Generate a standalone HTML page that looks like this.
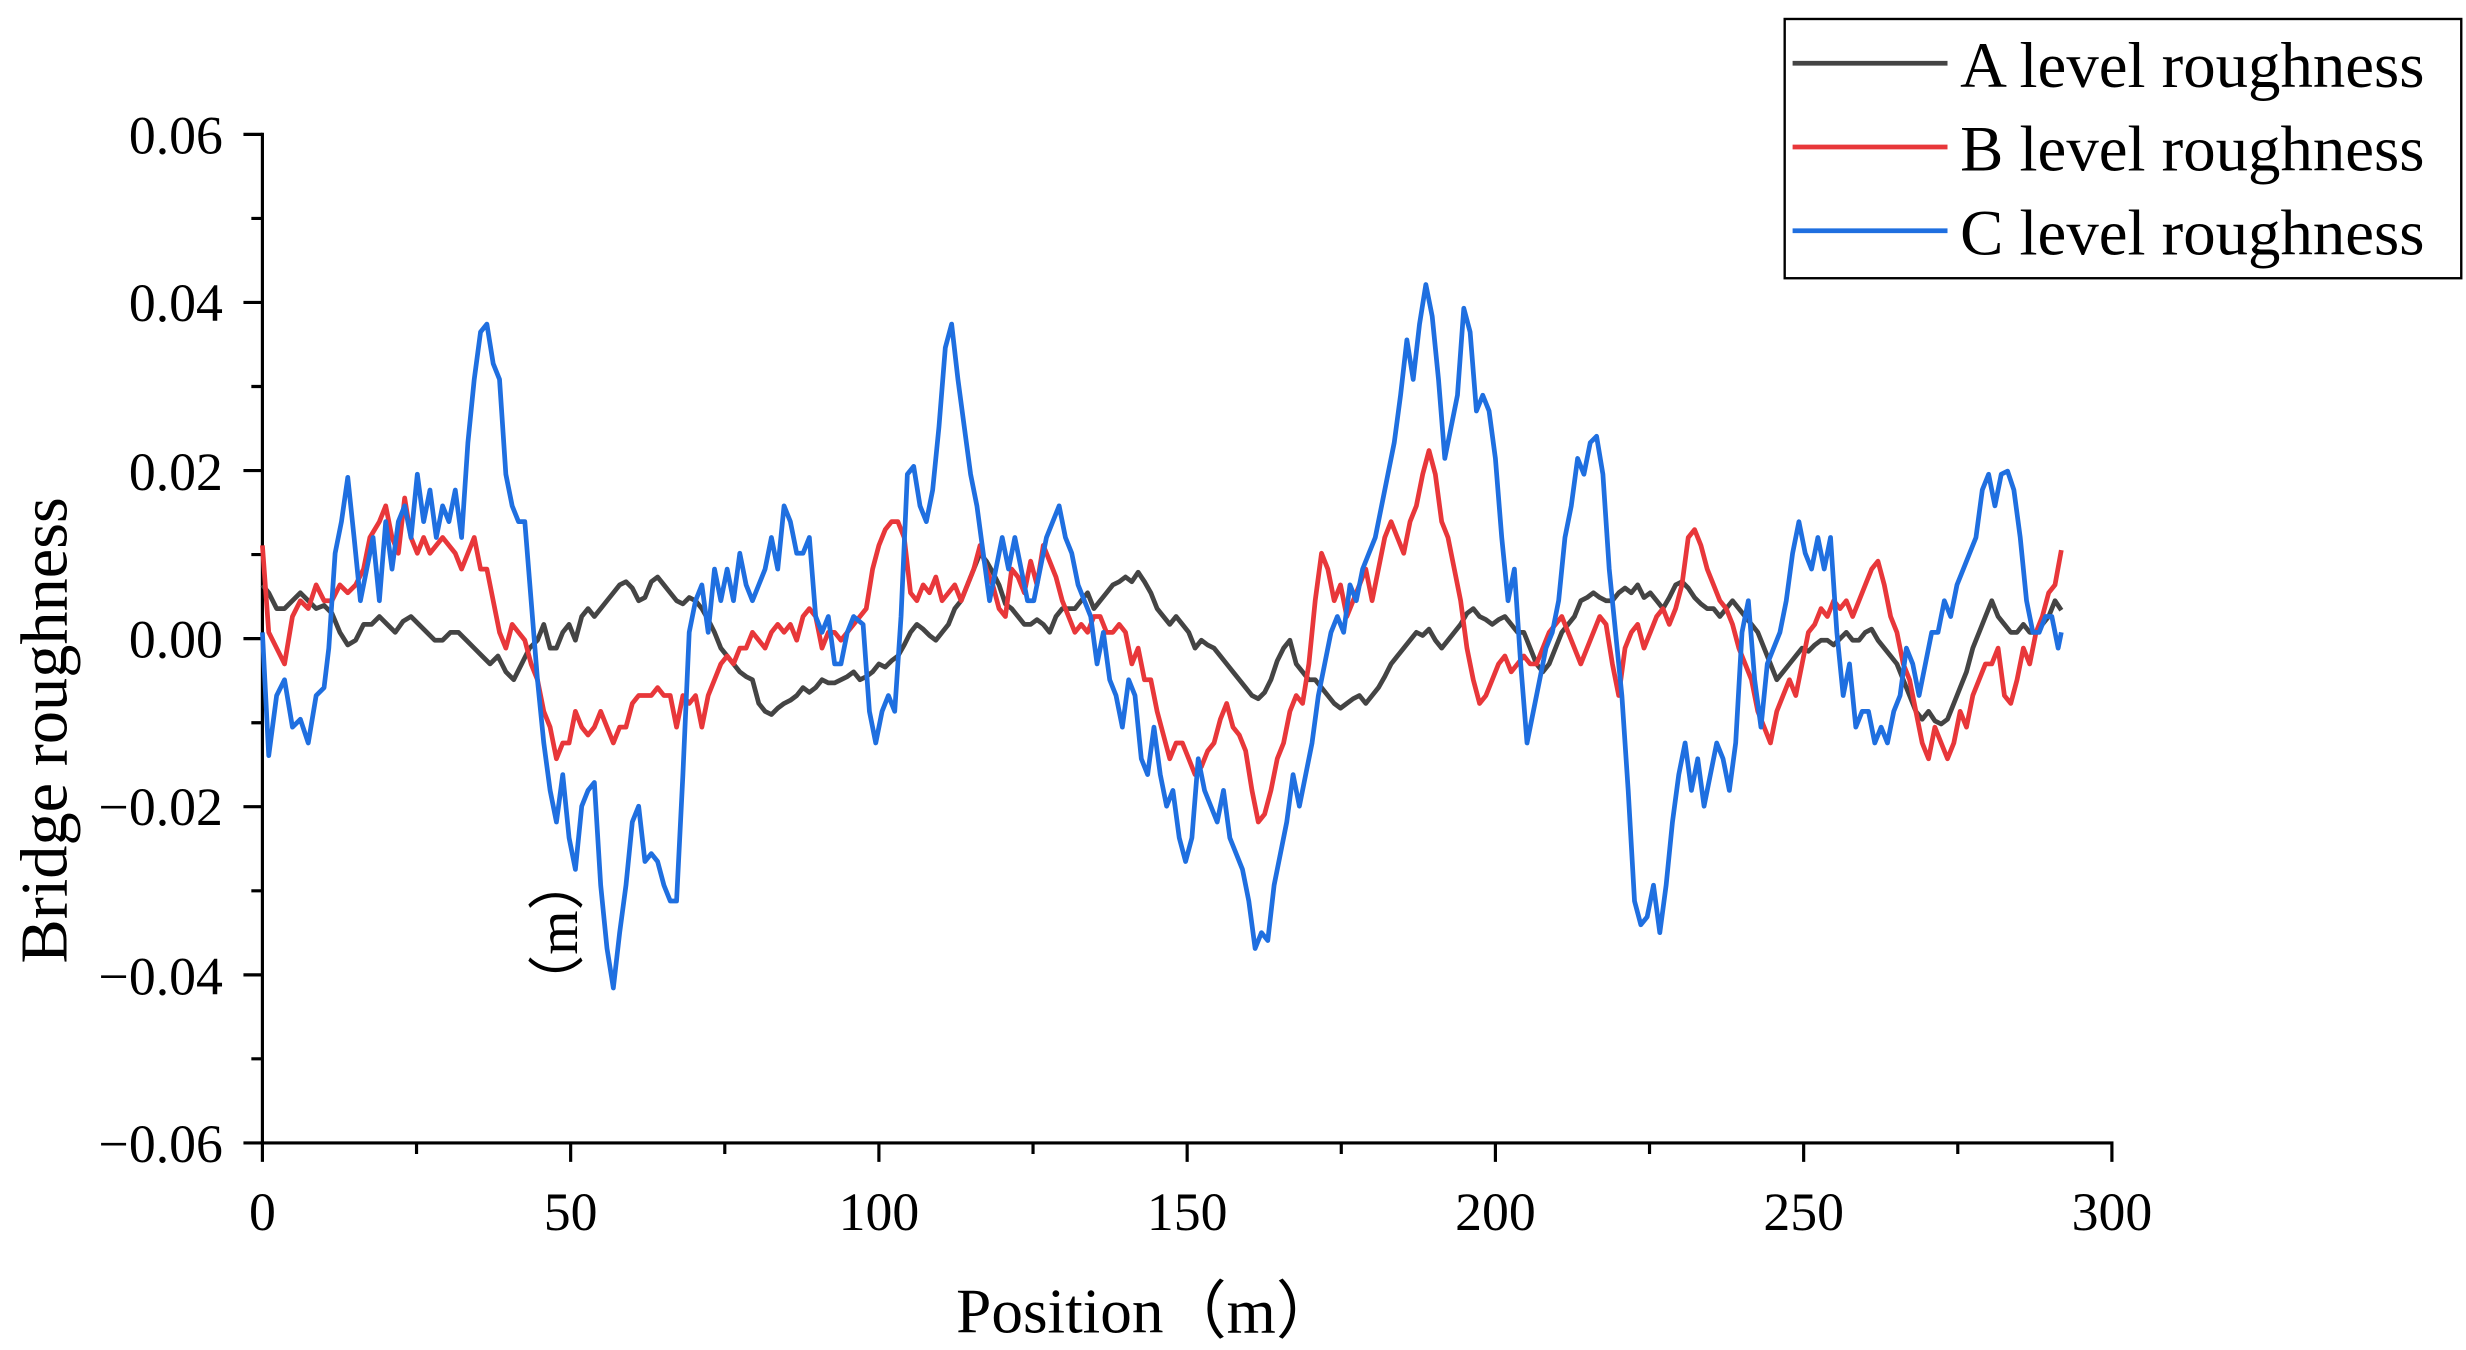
<!DOCTYPE html>
<html><head><meta charset="utf-8"><style>html,body{margin:0;padding:0;background:#fff}svg{display:block}</style></head>
<body>
<svg width="2466" height="1350" viewBox="0 0 1560 854" xmlns="http://www.w3.org/2000/svg" font-family="Liberation Serif, serif">
<rect width="1560" height="854" fill="#fff"/>
<g stroke="#000" stroke-width="2" fill="none">
<line x1="166" y1="84" x2="166" y2="724"/>
<line x1="165" y1="723" x2="1337" y2="723"/>
<path d="M166 85h-12M166 191.3h-12M166 297.7h-12M166 404h-12M166 510.3h-12M166 616.7h-12M166 723h-12
M166 138.2h-7M166 244.5h-7M166 350.8h-7M166 457.2h-7M166 563.5h-7M166 669.8h-7"/>
<path d="M166 723v12M361 723v12M556 723v12M751 723v12M946 723v12M1141 723v12M1336 723v12
M263.5 723v7M458.5 723v7M653.5 723v7M848.5 723v7M1043.5 723v7M1238.5 723v7"/>
</g>
<g font-size="34" text-anchor="end" fill="#000">
<text x="141" y="97">0.06</text><text x="141" y="203">0.04</text><text x="141" y="310">0.02</text><text x="141" y="416">0.00</text>
<text x="141" y="522">−0.02</text><text x="141" y="629">−0.04</text><text x="141" y="735">−0.06</text>
</g>
<g font-size="34" text-anchor="middle" fill="#000">
<text x="166" y="778">0</text><text x="361" y="778">50</text><text x="556" y="778">100</text><text x="751" y="778">150</text>
<text x="946" y="778">200</text><text x="1141" y="778">250</text><text x="1336" y="778">300</text>
</g>
<text x="726" y="843" font-size="40" text-anchor="middle">Position（m）</text>
<text transform="translate(42,462) rotate(-90)" font-size="42" text-anchor="middle">Bridge roughness</text>
<text transform="translate(365,590) rotate(-90)" font-size="36" text-anchor="middle">（m）</text>
<g fill="none" stroke-width="3" stroke-linejoin="round">
<polyline stroke="#444" points="166,370 170,375 175,385 180,385 185,380 190,375 195,380 200,385 205,383 210,388 215,400 220,408 225,405 230,395 235,395 240,390 245,395 250,400 255,393 260,390 265,395 270,400 275,405 280,405 285,400 290,400 295,405 300,410 305,415 310,420 315,415 320,425 325,430 330,420 335,410 340,405 344,395 348,410 352,410 356,400 360,395 364,405 368,390 372,385 376,390 380,385 384,380 388,375 392,370 396,368 400,372 404,380 408,378 412,368 416,365 420,370 424,375 428,380 432,382 436,378 440,380 444,385 448,392 452,400 456,410 460,415 464,420 468,425 472,428 476,430 480,445 484,450 488,452 492,448 496,445 500,443 504,440 508,435 512,438 516,435 520,430 524,432 528,432 532,430 536,428 540,425 544,430 548,428 552,425 556,420 560,422 564,418 568,415 572,408 576,400 580,395 584,398 588,402 592,405 596,400 600,395 604,385 608,380 612,370 616,360 620,350 624,355 628,362 632,370 636,382 640,385 644,390 648,395 652,395 656,392 660,395 664,400 668,390 672,385 676,385 680,385 684,380 688,375 692,385 696,380 700,375 704,370 708,368 712,365 716,368 720,362 724,368 728,375 732,385 736,390 740,395 744,390 748,395 752,400 756,410 760,405 764,408 768,410 772,415 776,420 780,425 784,430 788,435 792,440 796,442 800,438 804,430 808,418 812,410 816,405 820,420 824,425 828,430 832,430 836,435 840,440 844,445 848,448 852,445 856,442 860,440 864,445 868,440 872,435 876,428 880,420 884,415 888,410 892,405 896,400 900,402 904,398 908,405 912,410 916,405 920,400 924,395 928,388 932,385 936,390 940,392 944,395 948,392 952,390 956,395 960,400 964,400 968,410 972,420 976,425 980,420 984,410 988,400 992,395 996,390 1000,380 1004,378 1008,375 1012,378 1016,380 1020,380 1024,375 1028,372 1032,375 1036,370 1040,378 1044,375 1048,380 1052,385 1056,378 1060,370 1064,368 1068,372 1072,378 1076,382 1080,385 1084,385 1088,390 1092,385 1096,380 1100,385 1104,390 1108,395 1112,400 1116,410 1120,420 1124,430 1128,425 1132,420 1136,415 1140,410 1144,412 1148,408 1152,405 1156,405 1160,408 1164,404 1168,400 1172,405 1176,405 1180,400 1184,398 1188,405 1192,410 1196,415 1200,420 1204,430 1208,440 1212,450 1216,455 1220,450 1224,456 1228,458 1232,455 1236,445 1240,435 1244,425 1248,410 1252,400 1256,390 1260,380 1264,390 1268,395 1272,400 1276,400 1280,395 1284,400 1288,400 1292,395 1296,390 1300,380 1304,386"/>
<polyline stroke="#e8373a" points="166,345 170,400 175,410 180,420 185,390 190,380 195,385 200,370 205,380 210,380 215,370 220,375 225,370 230,360 234,340 240,330 244,320 248,340 252,350 256,315 260,340 264,350 268,340 272,350 276,345 280,340 284,345 288,350 292,360 296,350 300,340 304,360 308,360 312,380 316,400 320,410 324,395 328,400 332,405 336,420 340,430 344,450 348,460 352,480 356,470 360,470 364,450 368,460 372,465 376,460 380,450 384,460 388,470 392,460 396,460 400,445 404,440 408,440 412,440 416,435 420,440 424,440 428,460 432,440 436,445 440,440 444,460 448,440 452,430 456,420 460,415 464,420 468,410 472,410 476,400 480,405 484,410 488,400 492,395 496,400 500,395 504,405 508,390 512,385 516,390 520,410 524,400 528,400 532,405 536,400 540,395 544,390 548,385 552,360 556,345 560,335 564,330 568,330 572,340 576,375 580,380 584,370 588,375 592,365 596,380 600,375 604,370 608,380 612,370 616,360 620,345 624,360 628,370 632,385 636,390 640,360 644,365 648,375 652,355 656,370 660,345 664,355 668,365 672,380 676,390 680,400 684,395 688,400 692,390 696,390 700,400 704,400 708,395 712,400 716,420 720,410 724,430 728,430 732,450 736,465 740,480 744,470 748,470 752,480 756,490 760,485 764,475 768,470 772,455 776,445 780,460 784,465 788,475 792,500 796,520 800,515 804,500 808,480 812,470 816,450 820,440 824,445 828,420 832,380 836,350 840,360 844,380 848,370 852,390 856,380 860,370 864,360 868,380 872,360 876,340 880,330 884,340 888,350 892,330 896,320 900,300 904,285 908,300 912,330 916,340 920,360 924,380 928,410 932,430 936,445 940,440 944,430 948,420 952,415 956,425 960,420 964,415 968,420 972,420 976,410 980,400 984,395 988,390 992,400 996,410 1000,420 1004,410 1008,400 1012,390 1016,395 1020,420 1024,440 1028,410 1032,400 1036,395 1040,410 1044,400 1048,390 1052,385 1056,395 1060,385 1064,370 1068,340 1072,335 1076,345 1080,360 1084,370 1088,380 1092,385 1096,395 1100,410 1104,420 1108,430 1112,450 1116,460 1120,470 1124,450 1128,440 1132,430 1136,440 1140,420 1144,400 1148,395 1152,385 1156,390 1160,380 1164,385 1168,380 1172,390 1176,380 1180,370 1184,360 1188,355 1192,370 1196,390 1200,400 1204,420 1208,430 1212,450 1216,470 1220,480 1224,460 1228,470 1232,480 1236,470 1240,450 1244,460 1248,440 1252,430 1256,420 1260,420 1264,410 1268,440 1272,445 1276,430 1280,410 1284,420 1288,400 1292,390 1296,375 1300,370 1304,348"/>
<polyline stroke="#1f6fe0" points="166,400 170,478 175,440 180,430 185,460 190,455 195,470 200,440 205,435 208,410 212,350 216,330 220,302 224,340 228,380 232,360 236,340 240,380 244,330 248,360 252,330 256,320 260,340 264,300 268,330 272,310 276,340 280,320 284,330 288,310 292,340 296,280 300,240 304,210 308,205 312,230 316,240 320,300 324,320 328,330 332,330 336,380 340,430 344,470 348,500 352,520 356,490 360,530 364,550 368,510 372,500 376,495 380,560 384,600 388,625 392,590 396,560 400,520 404,510 408,545 412,540 416,545 420,560 424,570 428,570 432,490 436,400 440,380 444,370 448,400 452,360 456,380 460,360 464,380 468,350 472,370 476,380 480,370 484,360 488,340 492,360 496,320 500,330 504,350 508,350 512,340 516,390 520,400 524,390 528,420 532,420 536,400 540,390 546,395 550,450 554,470 558,450 562,440 566,450 570,390 574,300 578,295 582,320 586,330 590,310 594,270 598,220 602,205 606,240 610,270 614,300 618,320 622,350 626,380 630,360 634,340 638,360 642,340 646,360 650,380 654,380 658,360 662,340 666,330 670,320 674,340 678,350 682,370 686,380 690,390 694,420 698,400 702,430 706,440 710,460 714,430 718,440 722,480 726,490 730,460 734,490 738,510 742,500 746,530 750,545 754,530 758,480 762,500 766,510 770,520 774,500 778,530 782,540 786,550 790,570 794,600 798,590 802,595 806,560 810,540 814,520 818,490 822,510 826,490 830,470 834,440 838,420 842,400 846,390 850,400 854,370 858,380 862,360 866,350 870,340 874,320 878,300 882,280 886,250 890,215 894,240 898,205 902,180 906,200 910,240 914,290 918,270 922,250 926,195 930,210 934,260 938,250 942,260 946,290 950,340 954,380 958,360 962,420 966,470 970,450 974,430 978,410 982,400 986,380 990,340 994,320 998,290 1002,300 1006,280 1010,276 1014,300 1018,360 1022,400 1026,440 1030,500 1034,570 1038,585 1042,580 1046,560 1050,590 1054,560 1058,520 1062,490 1066,470 1070,500 1074,480 1078,510 1082,490 1086,470 1090,480 1094,500 1098,470 1102,400 1106,380 1110,430 1114,460 1118,420 1122,410 1126,400 1130,380 1134,350 1138,330 1142,350 1146,360 1150,340 1154,360 1158,340 1162,400 1166,440 1170,420 1174,460 1178,450 1182,450 1186,470 1190,460 1194,470 1198,450 1202,440 1206,410 1210,420 1214,440 1218,420 1222,400 1226,400 1230,380 1234,390 1238,370 1242,360 1246,350 1250,340 1254,310 1258,300 1262,320 1266,300 1270,298 1274,310 1278,340 1282,380 1286,400 1290,400 1294,390 1298,390 1302,410 1304,400"/>
</g>
<rect x="1129" y="12" width="428" height="164" fill="#fff" stroke="#000" stroke-width="1.5"/>
<g stroke-width="3">
<line x1="1134" y1="40" x2="1232" y2="40" stroke="#444"/>
<line x1="1134" y1="93" x2="1232" y2="93" stroke="#e8373a"/>
<line x1="1134" y1="146" x2="1232" y2="146" stroke="#1f6fe0"/>
</g>
<g font-size="41" fill="#000">
<text x="1240" y="55">A level roughness</text>
<text x="1240" y="108">B level roughness</text>
<text x="1240" y="161">C level roughness</text>
</g>
</svg>
</body></html>
